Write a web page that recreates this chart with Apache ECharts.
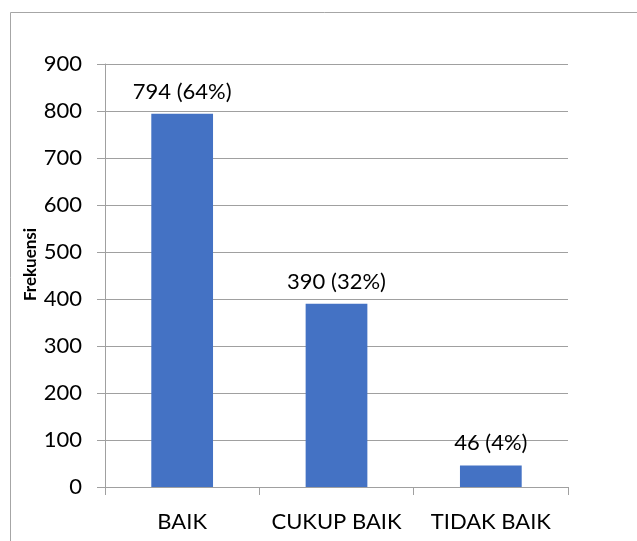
<!DOCTYPE html>
<html>
<head>
<meta charset="utf-8">
<script src="https://cdn.jsdelivr.net/npm/echarts@6/dist/echarts.min.js"></script>
<style>
  html, body { margin: 0; padding: 0; background: #fff; }
  #chart { width: 637px; height: 541px; }
</style>
</head>
<body>
<div id="chart"></div>
<script>
// data
var categories = ['BAIK', 'CUKUP BAIK', 'TIDAK BAIK'];
var frekuensi = [794, 390, 46];
var persen = [64, 32, 4];

var chart = echarts.init(document.getElementById('chart'));
var font = 'Lato, "Open Sans", sans-serif';

var option = {
  animation: false,
  graphic: [{
    type: 'rect',
    shape: { x: 10.5, y: 12.5, width: 800, height: 800 },
    style: { fill: 'none', stroke: '#a6a6a6', lineWidth: 1 },
    silent: true
  }],
  grid: { left: 105, right: 69, top: 64, bottom: 54 },
  xAxis: {
    type: 'category',
    data: categories,
    axisLine: { lineStyle: { color: '#a0a0a0' } },
    axisTick: { show: true, length: 8, lineStyle: { color: '#a0a0a0' } },
    axisLabel: { color: '#000', fontSize: 22, fontFamily: font, margin: 24, interval: 0, hideOverlap: false }
  },
  yAxis: {
    type: 'value',
    min: 0,
    max: 900,
    interval: 100,
    name: 'Frekuensi',
    nameLocation: 'middle',
    nameGap: 66,
    nameMoveOverlap: false,
    nameTextStyle: { color: '#000', fontSize: 17, fontWeight: 'bold', fontFamily: font, padding: [0, 0, 0, 22] },
    axisLine: { show: true, lineStyle: { color: '#a0a0a0' } },
    axisTick: { show: true, length: 8, lineStyle: { color: '#a0a0a0' } },
    axisLabel: { color: '#000', fontSize: 22, fontFamily: font, margin: 23 },
    splitLine: { lineStyle: { color: '#a0a0a0' } }
  },
  series: [{
    type: 'bar',
    data: frekuensi,
    barWidth: '40%',
    itemStyle: { color: '#4472c4' },
    label: {
      show: true,
      position: 'top',
      distance: 11,
      color: '#000',
      fontSize: 22,
      fontFamily: font,
      formatter: function (p) {
        return p.value + ' (' + persen[p.dataIndex] + '%)';
      }
    }
  }]
};
chart.setOption(option);
</script>
</body>
</html>
